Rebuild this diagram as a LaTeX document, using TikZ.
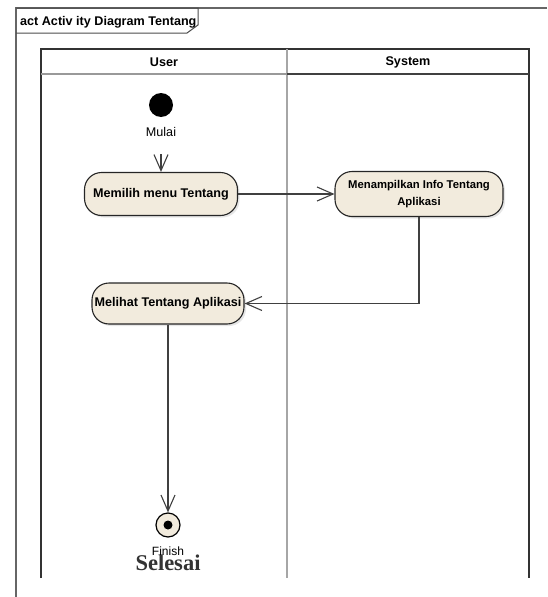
\documentclass[tikz,border=0pt]{standalone}
\usepackage{fontspec}
\setmainfont{Liberation Sans}
\newfontfamily\serifface{Liberation Serif}
\usetikzlibrary{arrows.meta,shadows}
\definecolor{actfill}{RGB}{242,235,221}
\definecolor{flowgray}{RGB}{64,64,64}

\begin{document}
\begin{tikzpicture}[x=1pt, y=-1pt,
  actbox/.style={draw=black!85, line width=1.1pt, fill=actfill, rounded corners=17pt,
    inner sep=0pt, align=center, font=\fontsize{12.6}{15}\selectfont\bfseries,
    drop shadow={shadow xshift=2pt, shadow yshift=-2pt, opacity=0.2}},
  flow/.style={draw=flowgray, line width=1.1pt,
    -{Straight Barb[length=16pt, width=14pt]}},
  lane/.style={line width=1.2pt},
  head/.style={font=\fontsize{12.6}{15}\selectfont\bfseries}]
\useasboundingbox (0,0) rectangle (547,597);

% frame
\draw[black!60, line width=1.5pt] (547,8) -- (16,8) -- (16,597);
\draw[black!70, line width=1pt] (16,8) -- (198,8) -- (198,25) -- (187,33) -- (16,33);
\node[head, anchor=base west, inner sep=0pt] (title) at (20,25) {act Activ ity Diagram Tentang};

% swimlanes
\draw[black!80, lane] (41,578) -- (41,49) -- (529,49) -- (529,578);
\draw[black!35, lane] (287,49) -- (287,578);
\draw[black!40, lane] (41,74) -- (287,74);
\draw[black!75, lane] (287,74) -- (529,74);
\node[head] (user) at (164,62) {User};
\node[head] (system) at (408,62) {System};

\node[circle, fill=black, minimum size=24pt, inner sep=0pt] (start) at (161,105) {};
\node[font=\fontsize{12.6}{15}\selectfont] (mulai) at (161,132) {Mulai};
\node[actbox, minimum width=153pt, minimum height=43pt] (memilih) at (161,194) {Memilih menu Tentang};
\node[actbox, minimum width=168pt, minimum height=45pt, font=\fontsize{11.3}{17}\selectfont\bfseries]
  (tampil) at (419,194) {Menampilkan Info Tentang\\Aplikasi};
\node[actbox, minimum width=152pt, minimum height=41pt] (melihat) at (168,303.5) {Melihat Tentang Aplikasi};
\node[circle, draw=black, line width=1.2pt, fill=actfill, minimum size=24pt, inner sep=0pt] (selesai) at (168,525) {};
\node[circle, fill=black, minimum size=9pt, inner sep=0pt] (dot) at (selesai) {};
\node[font=\serifface\bfseries\fontsize{22.5}{26}\selectfont, text=black!80] (selesaitext) at (168,563) {Selesai};
\node[font=\fontsize{12}{14}\selectfont] (finish) at (168,551) {Finish};

\draw[flow, shorten <=14pt] (mulai) -- (memilih);
\draw[flow] (memilih) -- (tampil);
\draw[flow] (tampil) |- (melihat);
\draw[flow] (melihat) -- (selesai);
\end{tikzpicture}
\end{document}
